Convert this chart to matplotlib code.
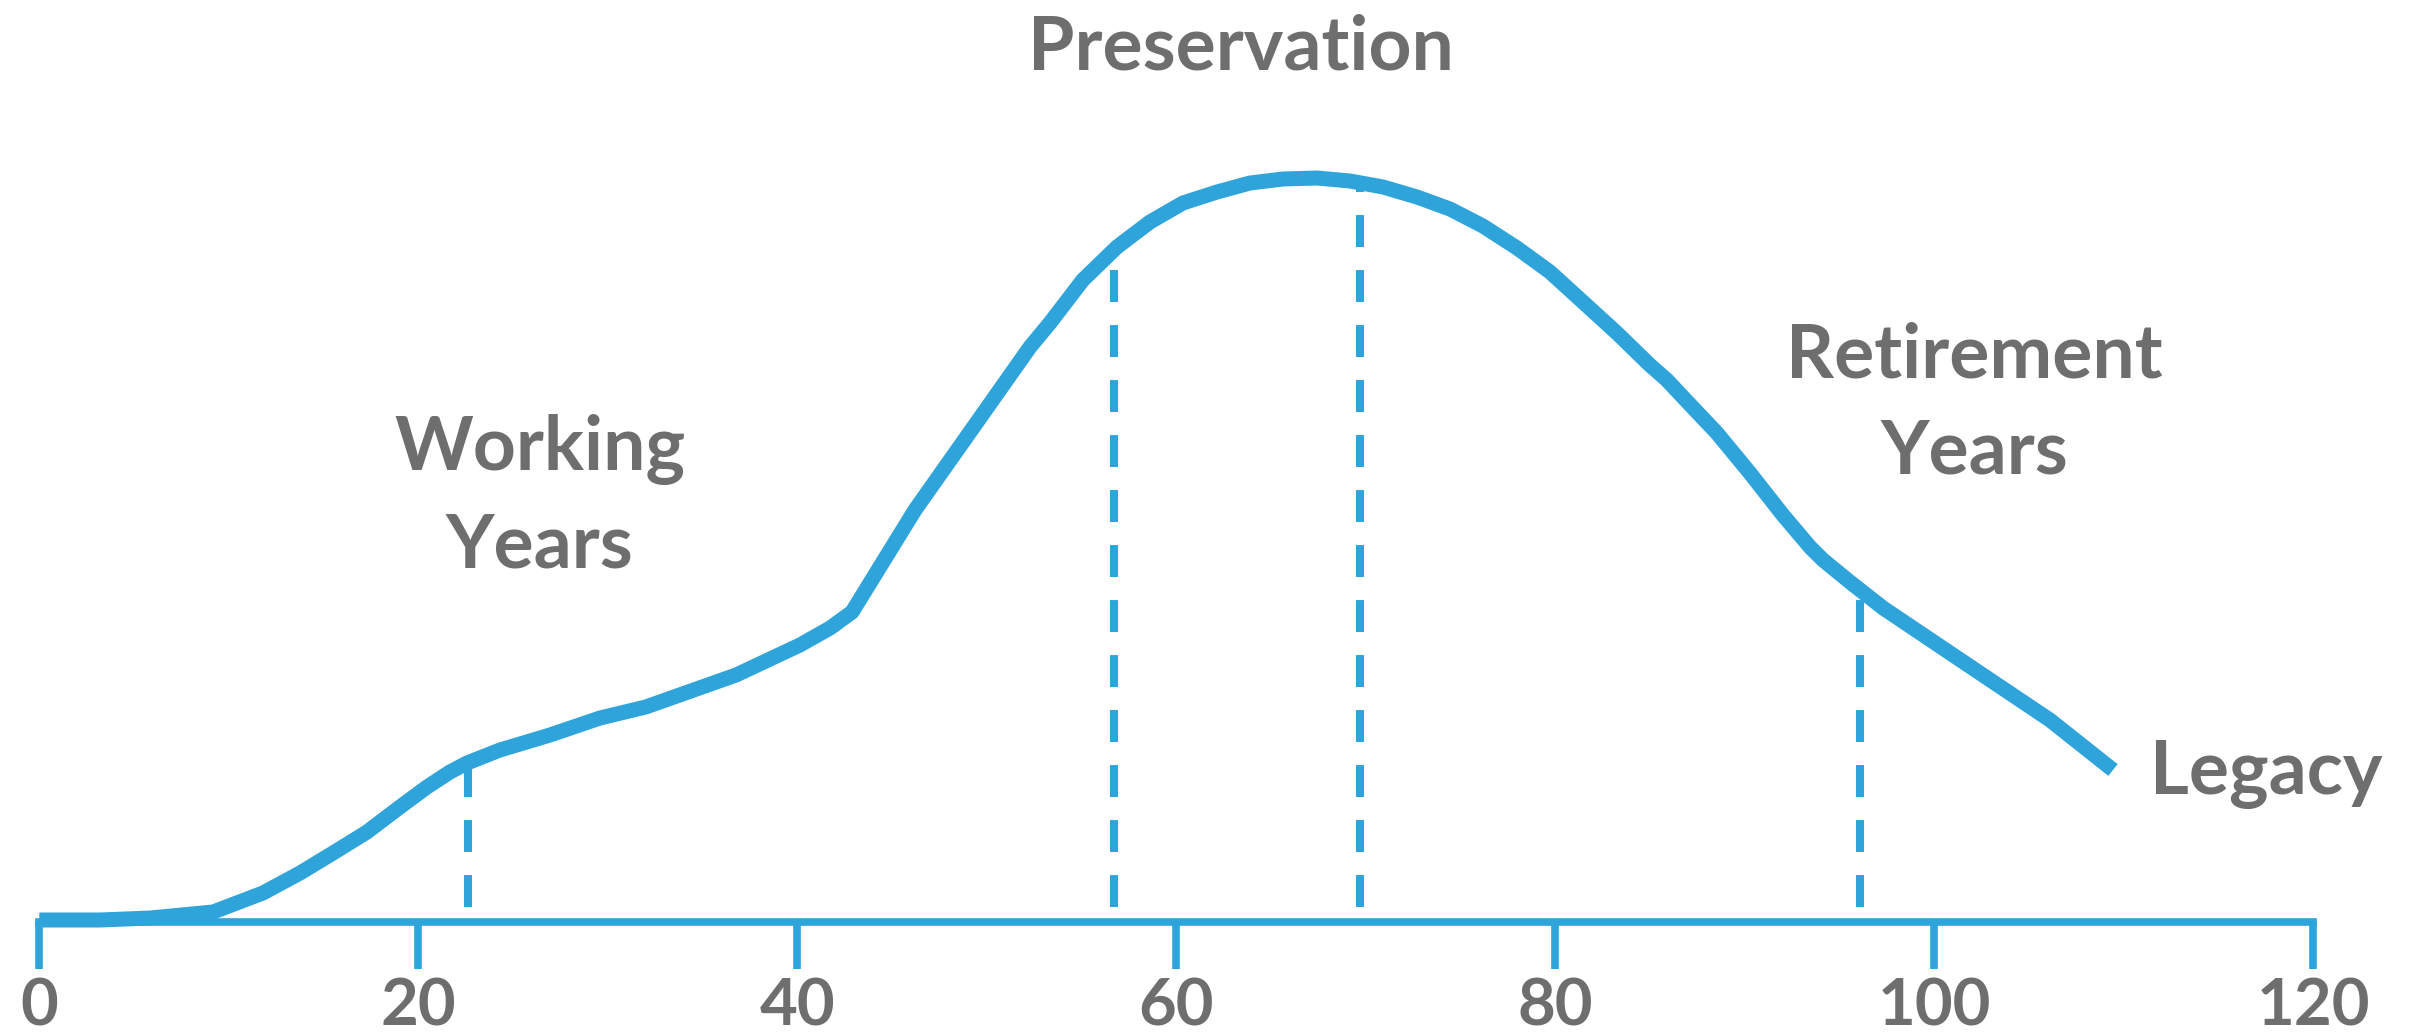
import numpy as np
import matplotlib
matplotlib.use("Agg")
import matplotlib.pyplot as plt

plt.rcParams["lines.scale_dashes"] = False

# Curve: age vs relative wealth (height above the axis)
ages = [0.0, 3.2, 5.85, 9.17, 11.8, 13.76, 15.5, 17.29, 19.03, 20.46, 21.67,
        22.57, 24.31, 26.95, 29.59, 32.0, 36.77, 40.14, 41.73, 42.89, 46.21,
        52.28, 53.33, 55.07, 56.87, 58.61, 60.35, 62.15, 63.89, 65.63, 67.42,
        69.17, 70.91, 72.70, 74.44, 76.18, 77.98, 79.72, 81.46, 83.25, 84.99,
        85.89, 86.73, 88.53, 90.27, 92.01, 93.44, 94.13, 95.55, 97.30,
        100.83, 106.1, 109.43]
wealth = [2, 2, 4, 10, 29, 49, 69, 90, 115, 135, 150,
          159, 172, 187, 204, 215, 247, 277, 294, 310, 412,
          575, 599, 642, 675, 700, 719, 730, 739, 743, 744,
          741, 735, 725, 713, 696, 674, 650, 620, 589, 557,
          542, 525, 489, 449, 407, 375, 362, 340, 314,
          269, 202, 152]

# Phase markers (dashed drops to the axis)
marker_ages = [22.6, 56.7, 69.7, 96.1]

tick_values = [0, 20, 40, 60, 80, 100, 120]

labels = ["Preservation", "Working\nYears", "Retirement\nYears", "Legacy"]
label_x = [63.4, 26.4, 102.1, 111.4]
label_y = [853, 355, 449, 128]
label_ha = ["center", "center", "center", "left"]

BLUE = "#2ea4db"
GREY = "#6e6e6e"
FONT = "Lato"

fig = plt.figure(figsize=(24.32, 10.33), dpi=100)
ax = fig.add_axes([0, 0, 1, 1])
px_per_unit = 18.95
ax.set_xlim(-39.3 / px_per_unit, (2432 - 39.3) / px_per_unit)
ax.set_ylim(-111, 922)

ax.plot(ages, wealth, color=BLUE, lw=10.8, solid_capstyle="butt",
        solid_joinstyle="round", zorder=3)

tops = np.interp(marker_ages, ages, wealth)
for a, t in zip(marker_ages, tops):
    ax.plot([a, a], [15, t], color=BLUE, lw=5.8, dashes=(23, 16.6),
            dash_capstyle="butt", zorder=2)

# axis
for s in ["left", "right", "top"]:
    ax.spines[s].set_visible(False)
ax.spines["bottom"].set_position(("data", 0))
ax.spines["bottom"].set_bounds(0, 120)
ax.spines["bottom"].set_color(BLUE)
ax.spines["bottom"].set_linewidth(5.5)
ax.set_xticks(tick_values)
ax.set_xticklabels([str(v) for v in tick_values])
ax.tick_params(axis="x", direction="out", length=34, width=5.5, color=BLUE,
               pad=6, labelsize=47, labelcolor=GREY)
for lab in ax.get_xticklabels():
    lab.set_fontfamily(FONT)
    lab.set_fontweight("bold")
ax.set_yticks([])

for text, x, y, ha in zip(labels, label_x, label_y, label_ha):
    ax.text(x, y, text, ha=ha, va="baseline", color=GREY, fontsize=54,
            fontfamily=FONT, fontweight="bold", linespacing=1.47)

fig.savefig("out.png", dpi=100, facecolor="white")
